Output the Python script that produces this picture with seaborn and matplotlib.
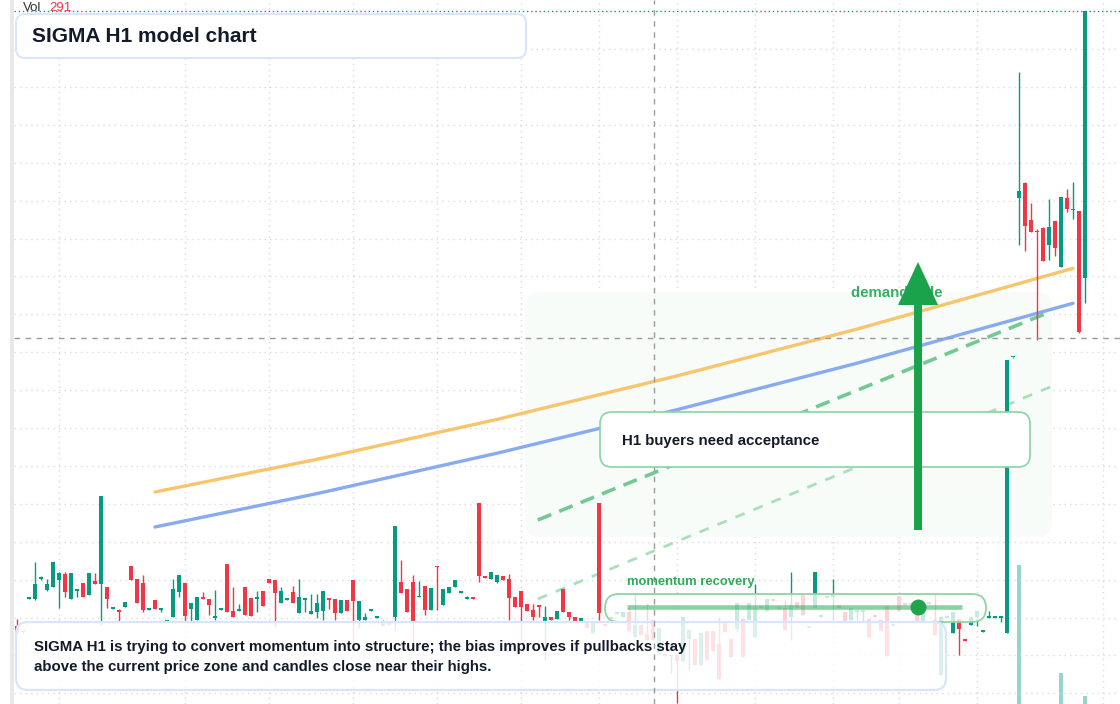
import matplotlib
matplotlib.use("Agg")
import matplotlib.pyplot as plt
import numpy as np
import pandas as pd
import seaborn as sns
from matplotlib.patches import FancyBboxPatch, Rectangle
from matplotlib.transforms import Affine2D

W, H = 1120, 704
TEAL = "#089981"
RED = "#f23645"
ORANGE = "#f6c56c"
BLUE = "#88aaf0"
GREEN = "#1aa34a"
GREEN_TXT = "#2eab5a"
INK = "#131a2a"

# --- candles (H1) ---
opens = [
    37.4, 36.8, 40.15, 40.1, 42.1, 41.0, 41.3, 42.0, 42.6, 40.1,
    40.95, 41.7, 40.5, 41.9, 41.6, 41.3, 39.15, 38.9, 39.3, 43.4,
    42.1, 41.7, 39.05, 40.0, 39.05, 37.85, 38.3, 40.8, 41.7, 39.1,
    38.0, 40.2, 40.1, 38.25, 39.05, 43.6, 38.9, 38.95, 41.3, 40.2,
    40.15, 40.9, 42.1, 42.0, 39.7, 40.05, 40.8, 38.7, 40.05, 38.6,
    38.8, 38.9, 40.2, 40.1, 38.7, 40.0, 42.0, 38.0, 38.0, 38.95,
    38.25, 37.4, 37.6, 38.3, 41.8, 41.1, 41.8, 40.3, 41.4, 39.0,
    43.4, 39.5, 40.7, 41.3, 40.75, 40.15, 40.2, 49.7, 42.3, 42.1,
    41.8, 42.4, 42.1, 40.3, 40.9, 39.6, 39.0, 39.4, 37.9, 38.3,
    38.1, 41.1, 38.8, 38.3, 37.9, 37.8, 36.7, 49.7, 37.5, 38.2,
    38.65, 38.3, 38.8, 36.3, 37.5, 36.6, 38.0, 34.7, 34.5, 34.4,
    34.5, 33.9, 36.1, 36.1, 33.5, 36.9, 36.9, 35.6, 37.7, 36.1,
    37.1, 38.1, 38.0, 36.3, 39.25, 38.9, 40.0, 39.15, 39.2, 38.3,
    39.8, 40.6, 37.3, 39.2, 38.35, 40.25, 40.3, 39.5, 38.8, 38.0,
    38.85, 38.85, 38.1, 38.4, 38.0, 39.4, 37.45, 40.4, 39.55, 39.55,
    38.5, 37.8, 39.65, 38.0, 32.5, 38.25, 36.7, 38.1, 36.0, 37.5,
    38.3, 36.85, 38.25, 38.25, 38.25, 36.7, 64.25, 80.2, 81.7, 78.0,
    76.8, 77.2, 75.5, 77.9, 73.3, 80.2, 78.95, 78.9, 72.2,
]
highs = [
    38.1, 36.9, 40.2, 43.8, 42.4, 42.1, 43.8, 42.8, 42.8, 42.7,
    41.0, 41.7, 42.7, 42.7, 50.4, 41.3, 39.2, 39.1, 39.8, 43.4,
    42.1, 42.5, 39.1, 40.0, 39.1, 37.9, 42.1, 42.5, 41.7, 39.7,
    40.3, 40.8, 40.1, 41.0, 39.1, 43.6, 41.3, 39.6, 41.3, 40.2,
    40.9, 40.9, 42.1, 42.0, 41.3, 40.1, 41.4, 42.1, 40.1, 40.6,
    40.6, 40.9, 40.2, 40.1, 40.0, 40.0, 42.0, 39.9, 38.7, 39.0,
    38.3, 38.0, 37.6, 47.4, 44.0, 41.1, 42.5, 41.9, 41.4, 41.2,
    43.4, 41.1, 41.3, 42.0, 40.8, 40.4, 40.2, 49.7, 42.3, 42.8,
    42.5, 42.4, 42.6, 40.3, 40.9, 39.6, 39.6, 39.4, 39.4, 38.3,
    38.9, 41.1, 38.8, 38.3, 38.2, 37.8, 37.8, 49.7, 37.5, 38.2,
    38.7, 38.8, 39.2, 40.7, 37.5, 39.7, 38.0, 37.2, 34.5, 34.5,
    34.5, 38.3, 37.0, 36.1, 36.7, 36.9, 36.9, 38.3, 37.7, 36.1,
    39.7, 38.1, 39.7, 41.6, 39.3, 40.1, 40.0, 39.2, 40.0, 42.8,
    39.8, 40.6, 37.3, 42.8, 38.4, 40.3, 42.1, 39.5, 38.8, 39.2,
    38.9, 38.9, 38.1, 38.4, 38.0, 39.4, 37.5, 40.4, 39.6, 39.6,
    38.5, 39.0, 39.7, 40.6, 38.3, 38.3, 38.8, 38.1, 36.0, 38.3,
    38.9, 36.9, 38.9, 38.3, 38.3, 64.0, 64.3, 92.8, 81.8, 79.7,
    77.1, 77.3, 80.1, 77.9, 80.3, 81.1, 81.8, 78.9, 98.9,
]
lows = [
    36.6, 36.7, 40.1, 40.0, 42.0, 40.9, 41.3, 39.2, 40.3, 40.1,
    40.3, 40.3, 40.5, 41.6, 37.5, 39.2, 39.1, 37.8, 39.3, 42.0,
    39.7, 38.8, 39.0, 39.1, 38.8, 37.8, 38.3, 40.3, 37.8, 37.8,
    38.0, 40.1, 38.5, 38.0, 39.0, 38.8, 38.3, 38.9, 38.5, 38.4,
    38.8, 39.4, 41.7, 37.3, 39.7, 40.0, 39.7, 38.7, 38.8, 38.6,
    38.2, 38.0, 39.1, 38.0, 38.7, 38.9, 35.5, 37.2, 38.0, 38.9,
    38.2, 37.4, 37.5, 37.0, 40.7, 38.8, 35.0, 40.3, 38.5, 39.0,
    39.0, 39.5, 40.7, 41.3, 40.7, 40.1, 40.1, 41.8, 42.2, 42.1,
    41.7, 42.0, 38.0, 39.3, 36.0, 38.9, 38.0, 38.3, 34.0, 38.0,
    38.1, 38.8, 38.0, 37.9, 37.9, 37.2, 36.7, 38.0, 37.4, 38.1,
    38.6, 38.3, 36.9, 36.3, 36.5, 36.0, 36.0, 34.7, 34.4, 32.7,
    29.7, 33.9, 33.0, 33.5, 33.5, 34.0, 34.9, 32.1, 36.8, 34.3,
    36.8, 34.3, 38.0, 36.3, 39.2, 38.9, 39.9, 39.1, 37.0, 36.0,
    39.2, 38.5, 37.2, 39.2, 38.3, 40.2, 38.0, 39.2, 37.9, 38.0,
    38.0, 37.8, 36.3, 38.3, 36.9, 34.4, 37.4, 38.9, 39.5, 39.5,
    37.8, 37.8, 39.6, 36.5, 32.5, 38.2, 36.7, 34.5, 35.9, 37.5,
    37.4, 36.8, 38.2, 38.2, 37.8, 36.7, 64.2, 75.5, 74.9, 76.8,
    66.0, 73.9, 74.0, 74.4, 73.3, 78.8, 78.1, 66.7, 69.7,
]
closes = [
    36.8, 36.9, 40.2, 41.6, 42.3, 41.6, 43.8, 42.7, 40.8, 42.7,
    41.0, 40.3, 42.7, 41.6, 50.4, 40.1, 39.2, 38.85, 39.8, 42.0,
    39.7, 39.0, 39.1, 39.1, 39.1, 37.9, 41.1, 42.5, 38.4, 39.7,
    40.3, 40.15, 39.5, 38.3, 39.1, 38.8, 38.3, 39.0, 38.5, 38.4,
    40.2, 39.4, 41.7, 40.7, 40.9, 40.1, 39.7, 40.3, 40.1, 38.9,
    39.7, 40.9, 40.05, 38.7, 40.0, 38.9, 39.9, 39.9, 38.3, 39.0,
    38.3, 37.9, 37.55, 47.4, 40.7, 38.8, 37.8, 40.4, 39.0, 41.2,
    43.3, 41.1, 41.3, 42.0, 40.8, 40.2, 40.15, 42.4, 42.25, 42.8,
    42.5, 42.0, 40.2, 39.3, 39.3, 38.9, 38.3, 39.35, 38.3, 38.0,
    38.9, 38.8, 38.3, 37.9, 38.2, 37.2, 37.8, 38.7, 37.45, 38.15,
    38.7, 38.8, 36.9, 37.5, 36.5, 36.0, 36.0, 37.2, 34.45, 34.5,
    33.9, 38.3, 37.0, 33.5, 36.7, 34.0, 34.9, 32.1, 36.8, 34.3,
    39.7, 34.3, 39.7, 39.3, 39.3, 40.1, 39.95, 39.2, 37.0, 39.5,
    39.2, 38.5, 37.25, 42.8, 38.4, 40.3, 40.6, 39.2, 37.9, 39.2,
    38.9, 38.9, 36.3, 38.35, 36.9, 34.4, 37.5, 38.9, 39.6, 39.6,
    37.8, 39.0, 39.7, 36.5, 38.3, 38.3, 38.8, 37.1, 35.95, 38.3,
    38.9, 36.9, 38.3, 38.3, 38.3, 64.0, 64.3, 80.9, 77.4, 76.8,
    76.75, 73.9, 77.3, 75.2, 80.3, 79.1, 79.0, 66.8, 98.9,
]
volumes = [
    22, 18, 25, 27, 14, 19, 26, 21, 24, 25,
    15, 20, 23, 17, 29, 21, 12, 16, 14, 22,
    24, 25, 11, 17, 13, 12, 23, 20, 24, 18,
    21, 12, 16, 15, 11, 27, 19, 13, 22, 18,
    15, 17, 14, 23, 16, 10, 17, 21, 14, 15,
    18, 22, 12, 20, 17, 16, 25, 21, 13, 11,
    12, 15, 10, 29, 22, 21, 28, 15, 20, 21,
    24, 17, 14, 15, 11, 12, 10, 29, 11, 14,
    13, 12, 23, 16, 24, 13, 15, 14, 25, 12,
    16, 21, 14, 12, 11, 13, 16, 29, 10, 12,
    11, 14, 20, 22, 15, 19, 18, 21, 10, 17,
    26, 24, 19, 22, 21, 23, 18, 25, 14, 19,
    20, 24, 18, 23, 10, 15, 11, 12, 19, 24,
    13, 18, 10, 26, 11, 12, 22, 12, 15, 16,
    14, 15, 18, 11, 17, 25, 12, 16, 11, 12,
    15, 17, 11, 19, 27, 12, 18, 20, 13, 14,
    16, 12, 14, 11, 13, 28, 12, 4530, 26, 20,
    24, 19, 22, 26, 1035, 21, 17, 28, 291,
]

# --- overlays ---
ma_idx = [23, 50, 80, 110, 140, 176]
ma_fast = [50.8, 54.07, 58.06, 62.41, 67.09, 73.17]
ma_slow = [47.3, 50.64, 54.68, 59.03, 63.68, 69.67]
trend_idx = [86.8, 171.7]
trend_main = [48.0, 68.7]
trend_idx2 = [86.8, 172.2]
trend_low = [40.1, 61.3]
momentum_level = 39.3
momentum_span = [101.7, 157.5]
signal_idx = 150.17
arrow_from, arrow_to = 47.0, 73.8
last_price = closes[-1]
cursor_idx, cursor_price = 106.17, 66.2

grid_prices = [95.1 - 3.79 * k for k in range(18)]
grid_idx = [7, 28, 42, 56, 70, 84, 97, 110, 123, 136, 147, 160, 181]

sns.set_theme(style="white")
plt.rcParams["font.family"] = ["Liberation Sans", "DejaVu Sans"]

fig = plt.figure(figsize=(W / 100, H / 100), dpi=100, facecolor="white")
ax = fig.add_axes([14 / W, 0, 1 - 14 / W, 1])
vax = ax.twinx()
ax.set_zorder(vax.get_zorder() + 1)
ax.patch.set_visible(False)

# pixel coordinates, origin top-left, for the annotation layer
PX = Affine2D().scale(1 / W, -1 / H).translate(0, 1) + fig.transFigure


def box(x0, y0, x1, y1, r, fc, ec, lw, z):
    p = FancyBboxPatch((x0, y0), x1 - x0, y1 - y0,
                       boxstyle=f"round,pad=0,rounding_size={r}",
                       transform=PX, fc=fc, ec=ec, lw=lw, zorder=z, clip_on=False)
    ax.add_patch(p)


o, h, l, c = map(np.array, (opens, highs, lows, closes))
idx = np.arange(len(o))
colors = np.where(c >= o, TEAL, RED)

# grid
for p in grid_prices:
    ax.axhline(p, color="#dadada", lw=1, ls=(0, (1, 3)), zorder=0.5)
for g in grid_idx:
    ax.axvline(g, color="#dadada", lw=1, ls=(0, (1, 3)), zorder=0.5)

# demand zone shading
box(525, 292, 1052, 537, 16, "#f7fcf8", "none", 0, 1)

# volume (the quiet bars sit under the visible floor)
vax.bar(idx, volumes, width=0.82, color=colors, alpha=0.42, lw=0)
vax.set_ylim(32, volumes[-1] * H / 9)
vax.set_axis_off()

# moving averages
ma_df = pd.DataFrame({
    "i": ma_idx * 2,
    "price": ma_fast + ma_slow,
    "series": ["fast"] * len(ma_idx) + ["slow"] * len(ma_idx),
})
sns.lineplot(data=ma_df, x="i", y="price", hue="series",
             palette={"fast": ORANGE, "slow": BLUE}, linewidth=2.4,
             legend=False, estimator=None, ax=ax, zorder=2)

# trend lines
ax.plot(trend_idx, trend_main, color="#5cc082", lw=2.6, ls=(0, (4, 2.4)),
        alpha=0.85, zorder=2.2)
ax.plot(trend_idx2, trend_low, color="#a9e0ba", lw=2.0, ls=(0, (3.6, 3.4)),
        zorder=2.2)

# candles
ax.vlines(idx, l, h, colors=colors, lw=1.0, zorder=3)
ax.bar(idx, np.maximum(np.abs(c - o), 0.15), bottom=np.minimum(o, c),
       width=0.82, color=colors, lw=0, zorder=3.1)

# last price and crosshair
ax.axhline(last_price, color=TEAL, lw=1, ls=(0, (1, 2)), zorder=2)
ax.axvline(cursor_idx, color="#9a9a9a", lw=1, ls=(0, (4, 4)), zorder=4.5)
ax.axhline(cursor_price, color="#9a9a9a", lw=1, ls=(0, (4, 4)), zorder=4.5)

# annotation boxes
box(605, 594, 986, 622, 14, (1, 1, 1, 0.78), "#8fd4a4", 1.3, 4)
box(16, 622, 946, 690, 12, (1, 1, 1, 0.86), "#d8e5fb", 1.6, 4.2)
box(600, 412, 1030, 467, 12, "white", "#8ad3a2", 1.2, 5)
box(16, 14, 526, 58, 9, "white", "#d8e5fb", 1.4, 5)

ax.plot(momentum_span, [momentum_level] * 2, color="#2eaa57", alpha=0.55,
        lw=3.3, solid_capstyle="butt", zorder=6)
ax.plot(signal_idx, momentum_level, "o", ms=10.5, color="#1fa34d", zorder=6.5)

ax.text(851, 293, "demand side", transform=PX, fontsize=10.8, fontweight="bold",
        color="#35b062", va="center", zorder=6.6)
ax.arrow(signal_idx, arrow_from, 0, arrow_to - arrow_from, width=1.33,
         head_width=6.67, head_length=4.3, length_includes_head=True,
         fc=GREEN, ec="none", zorder=7)

ax.text(23, 8, "Vol", transform=PX, fontsize=9.5, color="#333333",
        va="center", zorder=9)
ax.text(49, 8, f"{volumes[-1]}", transform=PX, fontsize=9.5, color=RED,
        va="center", zorder=9)
ax.text(32, 36, "SIGMA H1 model chart", transform=PX, fontsize=15,
        fontweight="bold", color=INK, va="center", zorder=9)
ax.text(622, 441, "H1 buyers need acceptance", transform=PX, fontsize=10.8,
        fontweight="bold", color=INK, va="center", zorder=9)
ax.text(627, 582, "momentum recovery", transform=PX, fontsize=9.4,
        fontweight="bold", color=GREEN_TXT, va="center", zorder=9)
ax.text(34, 647, "SIGMA H1 is trying to convert momentum into structure; "
        "the bias improves if pullbacks stay", transform=PX, fontsize=10.8,
        fontweight="bold", color=INK, va="center", zorder=9)
ax.text(34, 667, "above the current price zone and candles close near their highs.",
        transform=PX, fontsize=10.8, fontweight="bold", color=INK,
        va="center", zorder=9)

ax.set_xlim(-0.5, (W - 17) / 6)
ax.set_ylim(100 - H / 10, 100)
ax.set_xticks([])
ax.set_yticks([])
ax.set_xlabel("")
ax.set_ylabel("")
for s in ax.spines.values():
    s.set_visible(False)

# left price-scale edge
fig.patches.append(Rectangle((10 / W, 0), 4 / W, 1, transform=fig.transFigure,
                             fc="#e8e8e8", ec="none"))

fig.savefig("out.png", dpi=100, facecolor="white")
